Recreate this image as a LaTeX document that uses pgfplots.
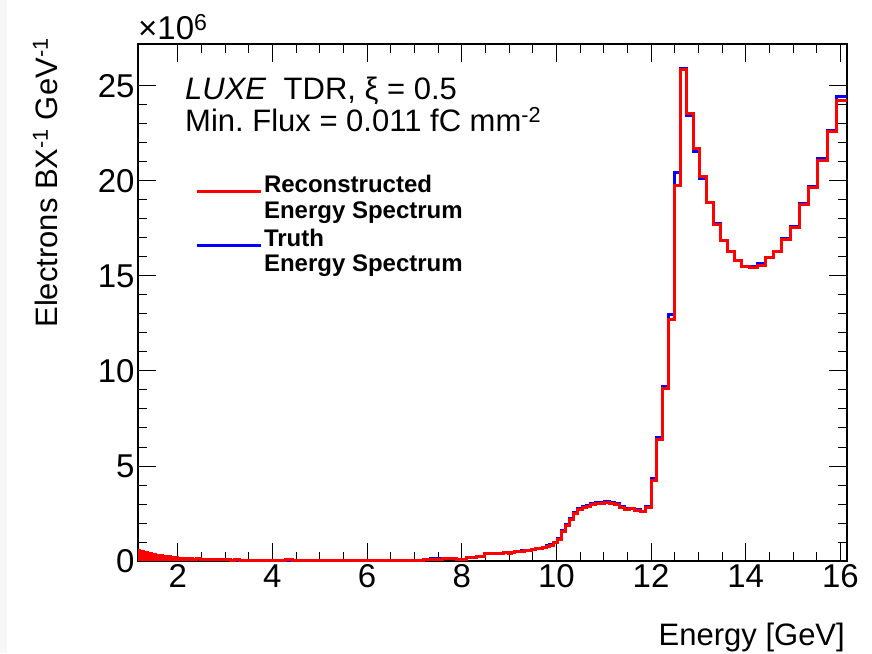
\documentclass[border=0pt]{standalone}
\usepackage{fontspec}
\setmainfont{Liberation Sans}
\usepackage{pgfplots}
\usepackage{pgfplotstable}
\pgfplotsset{compat=1.18}

% Reconstructed spectrum (left bin edge, value in 10^6)
\pgfplotstableread{
E V
1.16 0.53
1.20 0.47
1.24 0.50
1.28 0.42
1.32 0.44
1.36 0.38
1.40 0.40
1.44 0.33
1.48 0.35
1.52 0.30
1.56 0.31
1.60 0.26
1.64 0.28
1.68 0.24
1.72 0.25
1.76 0.21
1.80 0.22
1.84 0.18
1.88 0.20
1.92 0.16
1.96 0.17
2.00 0.14
2.08 0.15
2.16 0.12
2.24 0.13
2.32 0.10
2.40 0.11
2.48 0.09
2.56 0.10
2.64 0.08
2.72 0.09
2.80 0.07
2.88 0.08
2.96 0.06
3.04 0.07
3.12 0.05
3.20 0.06
3.30 0.05
3.40 0.05
3.60 0.04
3.80 0.04
4.00 0.03
4.28 0.07
4.42 0.03
5.00 0.02
6.00 0.02
7.00 0.02
7.19 0.07
7.33 0.10
7.60 0.11
7.89 0.09
8.11 0.16
8.32 0.25
8.49 0.38
8.62 0.40
8.75 0.41
8.88 0.43
8.9879 0.42
9.0547 0.44
9.1226 0.50
9.1915 0.51
9.2614 0.52
9.3324 0.54
9.4045 0.56
9.4777 0.58
9.5521 0.64
9.6276 0.66
9.7043 0.70
9.7823 0.77
9.8616 0.84
9.9421 0.95
10.0239 1.12
10.1072 1.56
10.1918 1.85
10.2778 2.20
10.3652 2.50
10.4543 2.72
10.5448 2.84
10.6370 2.88
10.7308 2.98
10.8262 3.03
10.9233 3.03
11.0222 3.08
11.1229 3.01
11.2255 2.98
11.3299 2.84
11.4364 2.72
11.5448 2.74
11.6553 2.66
11.7680 2.58
11.8829 2.84
12.0000 4.25
12.1195 6.39
12.2413 9.07
12.3656 12.72
12.4926 19.77
12.6221 25.86
12.7543 23.55
12.8894 21.70
13.0273 20.21
13.1682 18.84
13.3121 17.72
13.4593 16.84
13.6098 16.26
13.7637 15.79
13.9211 15.47
14.0821 15.44
14.2469 15.56
14.4156 15.95
14.5883 16.26
14.7652 16.93
14.9465 17.53
15.1322 18.74
15.3227 19.65
15.5180 21.09
15.7184 22.58
15.9240 24.25
16.1350 24.25
}\redtab

% Truth spectrum
\pgfplotstableread{
E V
1.16 0.52
1.20 0.48
1.24 0.49
1.28 0.43
1.32 0.43
1.36 0.39
1.40 0.39
1.44 0.34
1.48 0.34
1.52 0.30
1.56 0.30
1.60 0.27
1.64 0.27
1.68 0.24
1.72 0.24
1.76 0.21
1.80 0.21
1.84 0.19
1.88 0.19
1.92 0.16
1.96 0.16
2.00 0.14
2.08 0.14
2.16 0.12
2.24 0.12
2.32 0.10
2.40 0.10
2.48 0.09
2.56 0.09
2.64 0.08
2.72 0.08
2.80 0.07
2.88 0.07
2.96 0.06
3.04 0.06
3.12 0.05
3.20 0.05
3.30 0.05
3.40 0.05
3.60 0.04
3.80 0.04
4.00 0.03
4.28 0.05
4.42 0.03
5.00 0.02
6.00 0.02
7.00 0.03
7.19 0.08
7.33 0.11
7.60 0.12
7.89 0.10
8.11 0.17
8.32 0.26
8.49 0.39
8.62 0.41
8.75 0.42
8.88 0.44
8.9879 0.43
9.0547 0.45
9.1226 0.51
9.1915 0.52
9.2614 0.53
9.3324 0.55
9.4045 0.57
9.4777 0.60
9.5521 0.66
9.6276 0.68
9.7043 0.72
9.7823 0.79
9.8616 0.86
9.9421 0.98
10.0239 1.18
10.1072 1.60
10.1918 1.90
10.2778 2.26
10.3652 2.55
10.4543 2.78
10.5448 2.88
10.6370 2.94
10.7308 3.02
10.8262 3.06
10.9233 3.07
11.0222 3.14
11.1229 3.06
11.2255 3.01
11.3299 2.89
11.4364 2.76
11.5448 2.77
11.6553 2.70
11.7680 2.62
11.8829 2.86
12.0000 4.34
12.1195 6.49
12.2413 9.16
12.3656 12.95
12.4926 20.42
12.6221 25.90
12.7543 23.42
12.8894 21.55
13.0273 20.10
13.1682 18.88
13.3121 17.75
13.4593 16.88
13.6098 16.29
13.7637 15.82
13.9211 15.50
14.0821 15.51
14.2469 15.65
14.4156 15.99
14.5883 16.29
14.7652 16.96
14.9465 17.58
15.1322 18.80
15.3227 19.72
15.5180 21.15
15.7184 22.64
15.9240 24.42
16.1350 24.42
}\bluetab

% Densely binned low-energy part (filled under the reconstructed envelope)
\pgfplotstableread{
E V
1.16 0.53
1.20 0.47
1.24 0.50
1.28 0.42
1.32 0.44
1.36 0.38
1.40 0.40
1.44 0.33
1.48 0.35
1.52 0.30
1.56 0.31
1.60 0.26
1.64 0.28
1.68 0.24
1.72 0.25
1.76 0.21
1.80 0.22
1.84 0.18
1.88 0.20
1.92 0.16
1.96 0.17
2.00 0.14
2.08 0.15
2.16 0.12
2.24 0.13
2.32 0.10
2.40 0.11
2.48 0.09
2.56 0.10
2.64 0.08
2.72 0.09
2.80 0.07
2.88 0.08
2.96 0.06
3.04 0.07
3.12 0.05
3.20 0.06
3.30 0.06
}\lowfill

\begin{document}
\begin{tikzpicture}[x=1pt,y=1pt]
\useasboundingbox (0,0) rectangle (872,653);
\fill[white] (0,0) rectangle (872,653);
\fill[black!3] (0,0) rectangle (7,653);
\begin{axis}[
  at={(138pt,92pt)}, anchor=south west,
  width=709pt, height=517pt, scale only axis,
  xmin=1.16, xmax=16.14, ymin=0, ymax=27.2,
  xtick={2,4,...,16}, ytick={0,5,...,25},
  minor x tick num=3, minor y tick num=4,
  tick pos=both, tick align=inside,
  major tick length=18pt, minor tick length=9pt,
  axis line style={line width=1.1pt, black},
  tick style={black, line width=0.9pt},
  ticklabel style={font=\fontsize{33}{36}\selectfont},
  /pgf/number format/assume math mode=true,
  clip=false,
  legend style={at={(0.0804,0.7505)}, anchor=north west, draw=none, fill=none,
    inner sep=0pt, outer sep=0pt, row sep=-1.5pt,
    font=\fontsize{24}{25.5}\selectfont\bfseries,
    nodes={text depth=, text height=},
    cells={anchor=base west}},
  legend image code/.code={\path (0pt,1pt) -- (64pt,1pt); \draw[#1] (0pt,1pt) -- (52pt,1pt);},
]
\addlegendimage{red, line width=3pt}
\addlegendentry{\begin{tabular}[t]{@{}l@{}}Reconstructed\\Energy Spectrum\end{tabular}}
\addlegendimage{blue, line width=3pt}
\addlegendentry{\begin{tabular}[t]{@{}l@{}}Truth\\Energy Spectrum\end{tabular}}
\addplot[fill=red, draw=none, const plot mark left, forget plot] table[x=E,y=V]{\lowfill} \closedcycle;
\addplot[blue, line width=3pt, line join=miter, const plot mark left, forget plot] table[x=E,y=V]{\bluetab};
\addplot[red, line width=3pt, line join=miter, const plot mark left, forget plot] table[x=E,y=V]{\redtab};
\end{axis}
\node[anchor=base west, inner sep=0pt, font=\fontsize{33}{36}\selectfont] at (138,613) {×10\textsuperscript{6}};
\node[anchor=base west, inner sep=0pt, font=\fontsize{31}{34}\selectfont] at (185,553) {\textit{LUXE}\ \ TDR, ξ = 0.5};
\node[anchor=base west, inner sep=0pt, font=\fontsize{31}{34}\selectfont] at (185,521.5) {Min.\ Flux = 0.011 fC mm\textsuperscript{-2}};
\node[anchor=base east, inner sep=0pt, font=\fontsize{31}{34}\selectfont] at (845,8) {Energy [GeV]};
\node[anchor=base east, inner sep=0pt, rotate=90, font=\fontsize{31}{34}\selectfont] at (57,615) {Electrons BX\textsuperscript{-1} GeV\textsuperscript{-1}};
\end{tikzpicture}
\end{document}
